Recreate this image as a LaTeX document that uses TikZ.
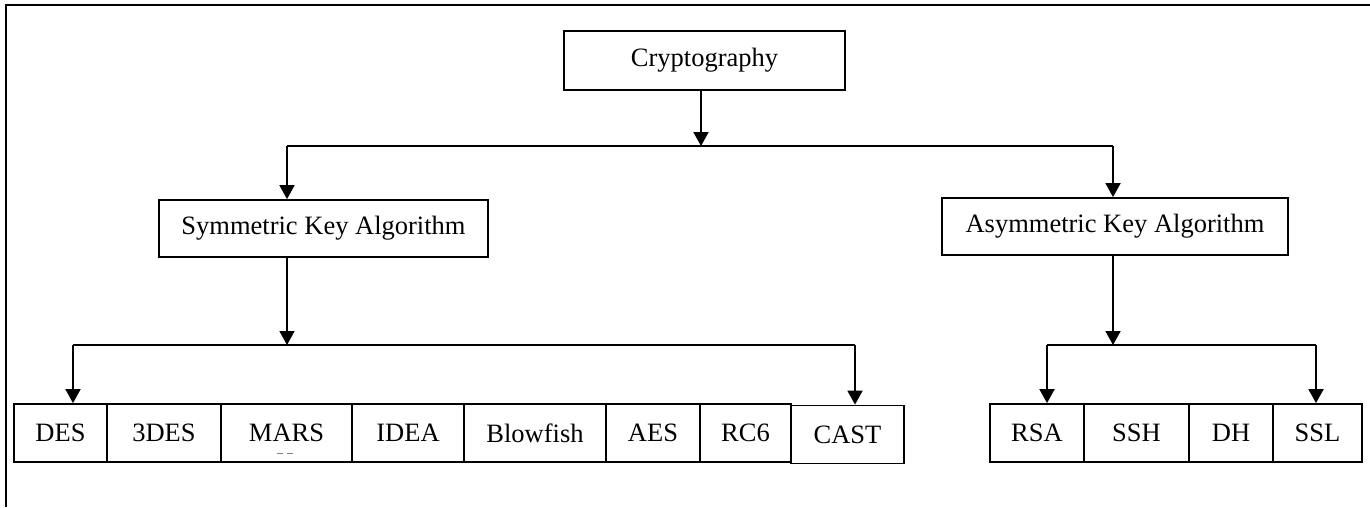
\documentclass[tikz,border=0pt]{standalone}
\usepackage{fontspec}
\setmainfont{Liberation Serif}
\usetikzlibrary{arrows.meta}
\begin{document}
\begin{tikzpicture}[x=1pt,y=-1pt,
  box/.style={draw,line width=1.8pt,minimum height=58pt,inner sep=0pt,
    font=\fontsize{26.5}{30}\selectfont,anchor=center},
  conn/.style={line width=1.8pt},
  arr/.style={conn,-{Triangle[width=15pt,length=14pt]}},
  frameline/.style={line width=2.6pt}]
\useasboundingbox (0,0) rectangle (1370,507);
% frame
\coordinate (fTL) at (6,5);
\coordinate (fTR) at (1370,5);
\coordinate (fBL) at (6,507);
\draw[frameline] (fTR) -- (fTL) -- (fBL);
% main boxes
\node[box,minimum width=281pt,minimum height=59pt] (crypto) at (704.5,60.5) {Cryptography};
\node[box,minimum width=329pt,minimum height=57pt] (sym) at (323.5,228.5) {Symmetric Key Algorithm};
\node[box,minimum width=346pt,minimum height=57pt] (asym) at (1115,226.5) {Asymmetric Key Algorithm};
% symmetric algorithms
\node[box,minimum width=93pt]  (des)  at (60.5,433) {DES};
\node[box,minimum width=114pt] (tdes) at (164,433) {3DES};
\node[box,minimum width=131pt] (mars) at (286.5,433) {MARS};
\node[box,minimum width=112pt] (idea) at (408,433) {IDEA};
\node[box,minimum width=142pt] (blow) at (535,433) {Blowfish};
\node[box,minimum width=94pt]  (aes)  at (653,433) {AES};
\node[box,minimum width=91pt]  (rc6)  at (745.5,433) {RC6};
\node[box,minimum width=113pt] (cast) at (847.5,434.5) {CAST};
% asymmetric algorithms
\node[box,minimum width=94pt]  (rsa)  at (1037,433) {RSA};
\node[box,minimum width=105pt] (ssh)  at (1136.5,433) {SSH};
\node[box,minimum width=84pt]  (dh)   at (1231,433) {DH};
\node[box,minimum width=89pt]  (ssl)  at (1317.5,433) {SSL};
% stray marks under MARS
\draw[line width=0.6pt,gray] (277,453) -- (283,453) (287,453) -- (293,453);
% junction coordinates
\coordinate (j0) at (701,146);
\coordinate (j0l) at (287,146);
\coordinate (j0r) at (1113,146);
\coordinate (j1) at (287,345);
\coordinate (j1l) at (73,345);
\coordinate (j1r) at (855,345);
\coordinate (j2) at (1113,345);
\coordinate (j2l) at (1047,345);
\coordinate (j2r) at (1316,345);
% connectors level 1
\draw[arr] (crypto.south -| j0) -- (j0);
\draw[conn] (j0l) -- (j0r);
\draw[arr] (j0l) -- (sym.north -| j0l);
\draw[arr] (j0r) -- (asym.north -| j0r);
% connectors symmetric
\draw[arr] (sym.south -| j1) -- (j1);
\draw[conn] (j1l) -- (j1r);
\draw[arr] (j1l) -- (des.north -| j1l);
\draw[arr] (j1r) -- (cast.north -| j1r);
% connectors asymmetric
\draw[arr] (asym.south -| j2) -- (j2);
\draw[conn] (j2l) -- (j2r);
\draw[arr] (j2l) -- (rsa.north -| j2l);
\draw[arr] (j2r) -- (ssl.north -| j2r);
\end{tikzpicture}
\end{document}
